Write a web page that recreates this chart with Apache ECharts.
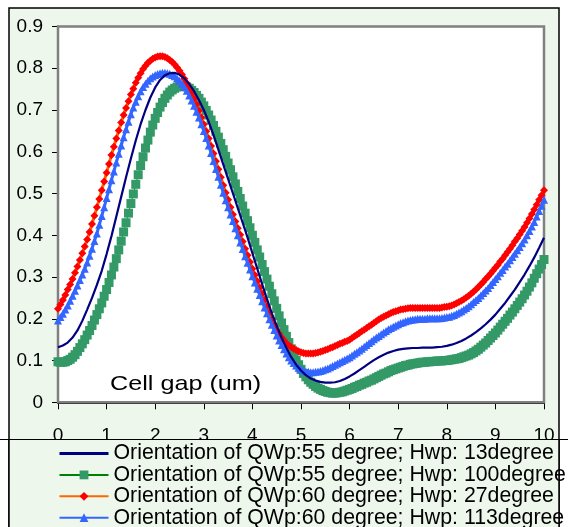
<!DOCTYPE html>
<html>
<head>
<meta charset="utf-8">
<script src="https://cdn.jsdelivr.net/npm/echarts@6/dist/echarts.min.js"></script>
<style>html,body{margin:0;padding:0;background:#fff}#c{width:568px;height:527px}</style>
</head>
<body>
<div id="c"></div>
<script>
// Cell gap (um) sample positions for the line-only series
const cellGap = [0,0.1,0.2,0.3,0.4,0.5,0.6,0.7,0.8,0.9,1,1.1,1.2,1.3,1.4,1.5,1.6,1.7,1.8,1.9,2,2.1,2.2,2.3,2.4,2.5,2.6,2.7,2.8,2.9,3,3.1,3.2,3.3,3.4,3.5,3.6,3.7,3.8,3.9,4,4.1,4.2,4.3,4.4,4.5,4.6,4.7,4.8,4.9,5,5.1,5.2,5.3,5.4,5.5,5.6,5.7,5.8,5.9,6,6.1,6.2,6.3,6.4,6.5,6.6,6.7,6.8,6.9,7,7.1,7.2,7.3,7.4,7.5,7.6,7.7,7.8,7.9,8,8.1,8.2,8.3,8.4,8.5,8.6,8.7,8.8,8.9,9,9.1,9.2,9.3,9.4,9.5,9.6,9.7,9.8,9.9,10];

// Cell gap (um) sample positions for the marker series
const cellGapFine = [
0,0.05,0.1,0.15,0.2,0.25,0.3,0.35,0.4,0.45,0.5,0.55,0.6,0.65,0.7,0.75,0.8,0.85,0.9,0.95,
1,1.05,1.1,1.15,1.2,1.25,1.3,1.35,1.4,1.45,1.5,1.55,1.6,1.65,1.7,1.75,1.8,1.85,1.9,1.95,
2,2.05,2.1,2.15,2.2,2.25,2.3,2.35,2.4,2.45,2.5,2.55,2.6,2.65,2.7,2.75,2.8,2.85,2.9,2.95,
3,3.05,3.1,3.15,3.2,3.25,3.3,3.35,3.4,3.45,3.5,3.55,3.6,3.65,3.7,3.75,3.8,3.85,3.9,3.95,
4,4.05,4.1,4.15,4.2,4.25,4.3,4.35,4.4,4.45,4.5,4.55,4.6,4.65,4.7,4.75,4.8,4.85,4.9,4.95,
5,5.05,5.1,5.15,5.2,5.25,5.3,5.35,5.4,5.45,5.5,5.55,5.6,5.65,5.7,5.75,5.8,5.85,5.9,5.95,
6,6.05,6.1,6.15,6.2,6.25,6.3,6.35,6.4,6.45,6.5,6.55,6.6,6.65,6.7,6.75,6.8,6.85,6.9,6.95,
7,7.05,7.1,7.15,7.2,7.25,7.3,7.35,7.4,7.45,7.5,7.55,7.6,7.65,7.7,7.75,7.8,7.85,7.9,7.95,
8,8.05,8.1,8.15,8.2,8.25,8.3,8.35,8.4,8.45,8.5,8.55,8.6,8.65,8.7,8.75,8.8,8.85,8.9,8.95,
9,9.05,9.1,9.15,9.2,9.25,9.3,9.35,9.4,9.45,9.5,9.55,9.6,9.65,9.7,9.75,9.8,9.85,9.9,9.95,
10];

const seriesNames = [
  "Orientation of QWp:55 degree; Hwp: 13degree",
  "Orientation of QWp:55 degree; Hwp: 100degree",
  "Orientation of QWp:60 degree; Hwp: 27degree",
  "Orientation of QWp:60 degree; Hwp: 113degree"
];

const qwp55hwp13 = [0.132,0.136,0.143,0.155,0.172,0.195,0.222,0.25,0.281,0.315,0.355,0.398,0.445,0.492,0.539,0.584,0.627,0.666,0.70,0.73,0.754,0.772,0.783,0.788,0.789,0.785,0.776,0.762,0.745,0.724,0.70,0.672,0.64,0.605,0.57,0.535,0.50,0.465,0.43,0.395,0.357,0.32,0.283,0.247,0.213,0.183,0.155,0.13,0.108,0.09,0.076,0.065,0.057,0.052,0.049,0.047,0.047,0.048,0.051,0.056,0.062,0.069,0.077,0.085,0.093,0.101,0.108,0.114,0.119,0.123,0.126,0.128,0.129,0.130,0.130,0.131,0.131,0.131,0.132,0.133,0.135,0.138,0.142,0.147,0.153,0.160,0.168,0.177,0.187,0.198,0.210,0.224,0.238,0.254,0.270,0.288,0.306,0.326,0.347,0.370,0.394];

const qwp55hwp100 = [
0.097,0.096,0.096,0.097,0.100,0.103,0.108,0.114,0.122,0.131,0.140,0.150,0.161,0.172,0.184,0.197,0.210,0.224,0.238,0.254,
0.270,0.287,0.305,0.324,0.344,0.365,0.386,0.408,0.430,0.453,0.476,0.499,0.522,0.545,0.567,0.588,0.609,0.628,0.647,0.664,
0.680,0.694,0.707,0.718,0.728,0.736,0.743,0.748,0.752,0.755,0.757,0.758,0.757,0.755,0.752,0.747,0.742,0.735,0.728,0.719,
0.710,0.699,0.688,0.676,0.663,0.649,0.635,0.620,0.605,0.589,0.573,0.557,0.540,0.523,0.505,0.488,0.470,0.453,0.435,0.418,
0.400,0.383,0.365,0.348,0.330,0.313,0.295,0.278,0.260,0.243,0.225,0.207,0.190,0.174,0.158,0.143,0.128,0.114,0.101,0.090,
0.079,0.069,0.061,0.054,0.048,0.043,0.038,0.034,0.031,0.028,0.026,0.024,0.023,0.022,0.022,0.023,0.024,0.025,0.027,0.029,
0.031,0.033,0.036,0.038,0.041,0.043,0.046,0.048,0.051,0.053,0.056,0.059,0.062,0.065,0.068,0.070,0.073,0.076,0.078,0.080,
0.082,0.084,0.086,0.088,0.089,0.091,0.092,0.093,0.094,0.095,0.096,0.096,0.097,0.097,0.098,0.098,0.099,0.099,0.099,0.100,
0.100,0.101,0.102,0.103,0.104,0.105,0.107,0.109,0.111,0.113,0.116,0.119,0.123,0.127,0.132,0.137,0.142,0.148,0.154,0.160,
0.166,0.173,0.180,0.187,0.194,0.201,0.209,0.216,0.224,0.232,0.240,0.248,0.257,0.266,0.276,0.286,0.297,0.308,0.319,0.330,
0.342];

const qwp60hwp27 = [
0.224,0.234,0.245,0.257,0.270,0.282,0.295,0.310,0.325,0.341,0.357,0.373,0.390,0.408,0.427,0.447,0.467,0.487,0.508,0.529,
0.550,0.571,0.592,0.612,0.632,0.651,0.670,0.688,0.705,0.721,0.737,0.751,0.765,0.777,0.788,0.798,0.806,0.813,0.818,0.823,
0.826,0.828,0.829,0.829,0.827,0.824,0.820,0.815,0.809,0.802,0.794,0.785,0.775,0.764,0.752,0.740,0.727,0.713,0.698,0.682,
0.666,0.649,0.632,0.614,0.596,0.577,0.558,0.539,0.520,0.502,0.485,0.467,0.450,0.433,0.417,0.401,0.385,0.368,0.352,0.336,
0.320,0.305,0.290,0.275,0.260,0.245,0.230,0.215,0.200,0.186,0.174,0.164,0.155,0.148,0.141,0.136,0.132,0.128,0.125,0.122,
0.120,0.118,0.117,0.117,0.117,0.117,0.118,0.119,0.121,0.123,0.125,0.127,0.130,0.132,0.135,0.137,0.140,0.142,0.145,0.147,
0.150,0.154,0.158,0.162,0.166,0.170,0.174,0.178,0.182,0.186,0.190,0.194,0.198,0.202,0.205,0.208,0.211,0.214,0.216,0.218,
0.220,0.222,0.223,0.224,0.225,0.226,0.226,0.226,0.226,0.226,0.226,0.226,0.226,0.226,0.226,0.226,0.226,0.226,0.227,0.228,
0.229,0.230,0.232,0.234,0.237,0.240,0.243,0.247,0.251,0.255,0.260,0.265,0.270,0.276,0.282,0.288,0.295,0.301,0.308,0.315,
0.322,0.329,0.337,0.344,0.352,0.360,0.368,0.376,0.385,0.393,0.402,0.411,0.420,0.430,0.440,0.451,0.462,0.473,0.485,0.496,
0.508];

const qwp60hwp113 = [
0.196,0.204,0.212,0.222,0.232,0.243,0.255,0.267,0.280,0.293,0.306,0.320,0.335,0.351,0.368,0.386,0.404,0.425,0.446,0.467,
0.489,0.510,0.532,0.553,0.574,0.595,0.615,0.635,0.654,0.672,0.690,0.706,0.720,0.733,0.745,0.755,0.763,0.770,0.776,0.780,
0.784,0.786,0.788,0.789,0.789,0.788,0.787,0.784,0.781,0.776,0.770,0.763,0.755,0.746,0.735,0.723,0.710,0.696,0.682,0.666,
0.650,0.633,0.615,0.597,0.578,0.559,0.540,0.521,0.502,0.484,0.467,0.450,0.434,0.417,0.400,0.383,0.367,0.350,0.334,0.318,
0.302,0.287,0.272,0.257,0.242,0.227,0.213,0.199,0.186,0.173,0.160,0.148,0.137,0.127,0.117,0.108,0.100,0.094,0.088,0.083,
0.079,0.076,0.074,0.073,0.072,0.072,0.073,0.074,0.075,0.077,0.079,0.081,0.084,0.087,0.090,0.093,0.096,0.099,0.102,0.105,
0.108,0.112,0.116,0.120,0.124,0.128,0.133,0.137,0.142,0.146,0.151,0.155,0.159,0.163,0.167,0.171,0.175,0.178,0.181,0.184,
0.187,0.190,0.192,0.194,0.196,0.197,0.198,0.199,0.200,0.200,0.200,0.200,0.201,0.201,0.201,0.201,0.201,0.201,0.202,0.203,
0.204,0.205,0.207,0.209,0.212,0.215,0.218,0.222,0.226,0.230,0.235,0.240,0.245,0.250,0.256,0.262,0.268,0.274,0.281,0.288,
0.295,0.302,0.310,0.317,0.325,0.332,0.340,0.348,0.356,0.364,0.372,0.381,0.390,0.400,0.410,0.421,0.432,0.445,0.458,0.471,
0.485];

const xTicks = [0,1,2,3,4,5,6,7,8,9,10];
const yTicks = [0,0.1,0.2,0.3,0.4,0.5,0.6,0.7,0.8,0.9];
const xAxisTitle = "Cell gap (um)";

const FONT = "'Liberation Sans', Arial, sans-serif";
const pairs = (xs, ys) => xs.map((x, i) => [x, ys[i]]);

const chart = echarts.init(document.getElementById('c'), null, {renderer: 'canvas'});
chart.setOption({
  animation: false,
  backgroundColor: '#ffffff',
  grid: {
    left: 58, top: 26.5, right: 24, bottom: 124.7,
    show: true, backgroundColor: '#ffffff', borderColor: '#808080', borderWidth: 2.5, z: 1
  },
  xAxis: {
    type: 'value', min: xTicks[0], max: xTicks[xTicks.length - 1], interval: 1,
    axisLine: {show: true, onZero: false, lineStyle: {color: '#000', width: 2}},
    axisTick: {show: true, inside: false, length: 7, lineStyle: {color: '#000', width: 1}},
    axisLabel: {margin: 24, color: '#000', fontSize: 19, fontFamily: FONT},
    splitLine: {show: true, lineStyle: {color: '#222', width: 1, type: [4, 15.5]}}
  },
  yAxis: {
    type: 'value', min: yTicks[0], max: yTicks[yTicks.length - 1], interval: 0.1,
    axisLine: {show: true, onZero: false, lineStyle: {color: '#000', width: 2}},
    axisTick: {show: true, inside: false, length: 6, lineStyle: {color: '#000', width: 1}},
    axisLabel: {margin: 15, color: '#000', fontSize: 19, fontFamily: FONT},
    splitLine: {show: true, lineStyle: {color: '#222', width: 1, type: [5, 14.5]}}
  },
  legend: {
    show: true, type: 'plain', orient: 'vertical', left: 58, top: 443, height: 120, width: 500,
    z: 20, padding: 0,
    itemWidth: 49, itemHeight: 11, itemGap: 0.4,
    textStyle: {fontSize: 21.3, fontFamily: FONT, color: '#000', lineHeight: 20},
    data: [
      {name: seriesNames[0], itemStyle: {opacity: 0}, lineStyle: {width: 3, color: '#000080'}},
      {name: seriesNames[1]},
      {name: seriesNames[2]},
      {name: seriesNames[3]}
    ]
  },
  graphic: [
    {type: 'rect', z: -10, shape: {x: 9, y: 8, width: 550, height: 540},
     style: {fill: '#EDF7EC', stroke: '#000', lineWidth: 1.5}},
    {type: 'rect', z: 15, shape: {x: 9, y: 439, width: 550, height: 100},
     style: {fill: '#EDF7EC', stroke: 'none'}},
    {type: 'line', z: 16, shape: {x1: 0, y1: 439.5, x2: 568, y2: 439.5},
     style: {stroke: '#000', lineWidth: 1.2}},
    {type: 'line', z: 16, shape: {x1: 9, y1: 439, x2: 9, y2: 527},
     style: {stroke: '#000', lineWidth: 1.5}},
    {type: 'line', z: 16, shape: {x1: 559, y1: 439, x2: 559, y2: 527},
     style: {stroke: '#000', lineWidth: 1.5}},
    {type: 'text', z: 12, x: 110, y: 384, scaleX: 1.2,
     style: {text: xAxisTitle, x: 0, y: 0, fill: '#000', font: '21px ' + FONT, verticalAlign: 'middle', align: 'left'}}
  ],
  series: [
    {
      name: seriesNames[0], type: 'line', data: pairs(cellGap, qwp55hwp13), z: 8,
      showSymbol: false, symbol: 'none',
      lineStyle: {color: '#000080', width: 2.2}, itemStyle: {color: '#000080'}
    },
    {
      name: seriesNames[1], type: 'line', data: pairs(cellGapFine, qwp55hwp100), z: 3,
      symbol: 'rect', symbolSize: 9, showSymbol: true, showAllSymbol: true,
      lineStyle: {color: '#008000', width: 1}, itemStyle: {color: '#339966', borderWidth: 0}
    },
    {
      name: seriesNames[2], type: 'line', data: pairs(cellGapFine, qwp60hwp27), z: 4,
      symbol: 'diamond', symbolSize: 8, showSymbol: true, showAllSymbol: true,
      lineStyle: {color: '#FF6600', width: 3}, itemStyle: {color: '#FF0000', borderWidth: 0}
    },
    {
      name: seriesNames[3], type: 'line', data: pairs(cellGapFine, qwp60hwp113), z: 5,
      symbol: 'triangle', symbolSize: 8, showSymbol: true, showAllSymbol: true,
      lineStyle: {color: '#3366FF', width: 3}, itemStyle: {color: '#3366FF', borderWidth: 0}
    }
  ]
});
</script>
</body>
</html>
